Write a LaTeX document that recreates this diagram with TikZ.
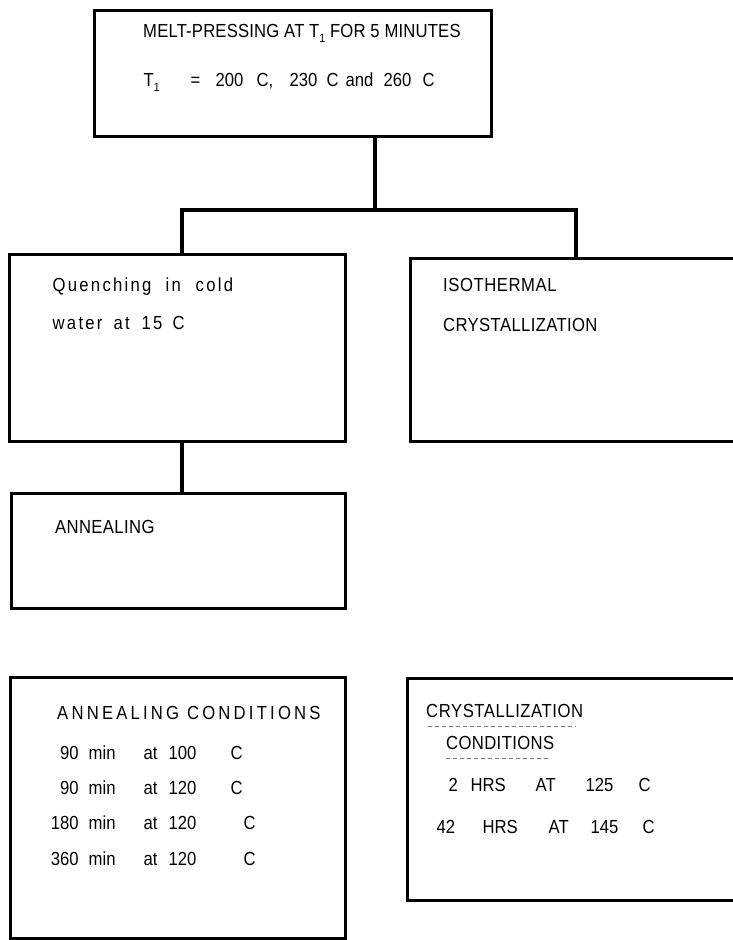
\documentclass[tikz,border=0pt]{standalone}
\usepackage{fontspec}
\setmainfont{Liberation Sans}[FakeStretch=0.88]
\usetikzlibrary{calc}
\newcommand\putat[2]{\makebox[0pt][l]{\hspace*{#1bp}#2}}
\newcommand\putr[2]{\makebox[0pt][l]{\hspace*{#1bp}\makebox[0pt][r]{#2}}}
\newcommand\subone{\raisebox{-5bp}{\fontsize{12}{12}\selectfont 1}}
\begin{document}
\begin{tikzpicture}[x=1bp,y=-1bp,
  box/.style={draw, line width=3.4bp, inner sep=0pt, anchor=north west},
  link/.style={draw, line width=3.2bp},
  txt/.style={anchor=base west, inner sep=0pt, font=\fontsize{19}{22}\selectfont},
  uline/.style={draw, gray, line width=0.8bp, dash pattern=on 4bp off 3bp}]
\useasboundingbox (0,0) rectangle (733,940);
\clip (0,0) rectangle (733,940);
% boxes
\node[box, minimum width=397bp, minimum height=126bp] (top) at (93,9) {};
\node[box, minimum width=336bp, minimum height=187bp] (quench) at (8,253) {};
\node[box, minimum width=336bp, minimum height=183bp] (iso) at (409,257) {};
\node[box, minimum width=334bp, minimum height=115bp] (anneal) at (10,492) {};
\node[box, minimum width=335bp, minimum height=261bp] (acond) at (9,676) {};
\node[box, minimum width=339bp, minimum height=222bp] (ccond) at (406,677) {};
% connectors
\coordinate (jm) at (375,210);
\coordinate (jl) at (182,210);
\coordinate (jr) at (576,210);
\draw[link] (jm |- top.south) -- (jm);
\draw[link] (jl |- quench.north) -- (jl) -- (jr) -- (jr |- iso.north);
\draw[link] (jl |- quench.south) -- (jl |- anneal.north);
% texts
\node[txt] (t1) at (143,37) {\addfontfeature{LetterSpace=1}MELT-PRESSING AT T\subone{} FOR 5 MINUTES};
\node[txt] (t2) at (143,86) {\putat{0}{T\subone}\putat{47}{=}\putat{72}{200}\putat{113}{C,}\putat{146}{230}\putat{183}{C}\putat{202}{and}\putat{240}{260}\putat{279}{C}};
\node[txt] (q1) at (52,291) {\addfontfeature{LetterSpace=12}\putat{0}{Quenching}\putat{113}{in}\putat{143}{cold}};
\node[txt] (q2) at (52,329) {\addfontfeature{LetterSpace=12}\putat{0}{water}\putat{61}{at}\putat{89}{15}\putat{120}{C}};
\node[txt] (i1) at (443,291) {\addfontfeature{LetterSpace=3}ISOTHERMAL};
\node[txt] (i2) at (443,331) {\addfontfeature{LetterSpace=2}CRYSTALLIZATION};
\node[txt] (a1) at (55,533) {\addfontfeature{LetterSpace=2}ANNEALING};
\node[txt] (ac0) at (57,719) {\addfontfeature{LetterSpace=17}ANNEALING CONDITIONS};
\node[txt] (ac1) at (0,759) {\putr{78}{90}\putat{88}{min}\putat{143}{at}\putat{168}{100}\putat{230}{C}};
\node[txt] (ac2) at (0,794) {\putr{78}{90}\putat{88}{min}\putat{143}{at}\putat{168}{120}\putat{230}{C}};
\node[txt] (ac3) at (0,829) {\putr{78}{180}\putat{88}{min}\putat{143}{at}\putat{168}{120}\putat{243}{C}};
\node[txt] (ac4) at (0,865) {\putr{78}{360}\putat{88}{min}\putat{143}{at}\putat{168}{120}\putat{243}{C}};
\node[txt] (cc0) at (426,717) {\addfontfeature{LetterSpace=3}CRYSTALLIZATION};
\node[txt] (cc1) at (446,749) {\addfontfeature{LetterSpace=2}CONDITIONS};
\draw[uline] ($(cc0.base west)+(2,9)$) -- ($(cc0.base east)+(-8,9)$);
\draw[uline] ($(cc1.base west)+(0,9)$) -- ($(cc1.base east)+(-4,9)$);
\node[txt] (cc2) at (0,791) {\putat{448}{2}\putat{470}{HRS}\putat{535}{AT}\putat{585}{125}\putat{638}{C}};
\node[txt] (cc3) at (0,833) {\putat{436}{42}\putat{482}{HRS}\putat{548}{AT}\putat{590}{145}\putat{642}{C}};
\end{tikzpicture}
\end{document}
